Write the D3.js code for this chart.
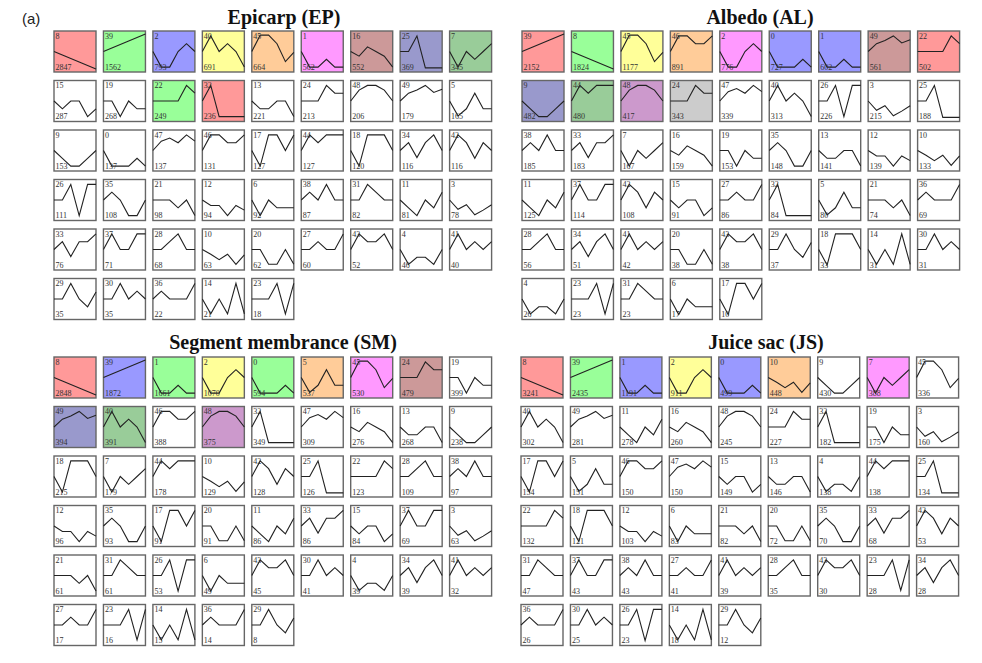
<!DOCTYPE html>
<html>
<head>
<meta charset="utf-8">
<script src="https://cdn.jsdelivr.net/npm/d3@7"></script>
<style>
  body { margin: 0; background: #fff; }
</style>
</head>
<body>
<div id="chart"></div>
<script>
// Model profiles (STEM), index = profile id, 6 time points, expression units
const profiles = [
  [0, -2, -2, -2, -1, -2],        // 0
  [0, -2, -2, -1, -2, -2],        // 1
  [0, -2, -2, 0, 1, 0],           // 2
  [0, -1.2, -0.6, -1.9, -1.3, -0.6], // 3
  [0, -1.9, -1, -1, -1.9, 0],     // 4
  [0, -1.9, -1, 1, -1, -1],       // 5
  [0, -2, 0, -1, -1, -1],         // 6
  [0, -2, 0, -1, 0, 1],           // 7
  [0, -0.45, -0.9, -1.35, -1.8, -2.25], // 8
  [0, -1, -2, -2, -1, 0],         // 9
  [0, -0.6, -1.3, -0.6, -1.9, -0.7], // 10
  [0, -1, -2, 0, -1, 1],          // 11
  [0, -0.7, -0.7, -2, -0.7, -1.3], // 12
  [0, -1, -1, 0, 0, -2],          // 13
  [0, -1.9, 0, -1.9, 2, -1.9],    // 14
  [0, -1, 0, 0, -2, -1],          // 15
  [0, -0.6, 0.6, 0, -0.6, -2],    // 16
  [0, -2, 2, 2, 0, 2],            // 17
  [0, -2, 2, 2, 2, 0],            // 18
  [0, 0, -2, 0, -1, -1],          // 19
  [0, 0, -1.9, -1.9, 0, -1.9],    // 20
  [0, 0, 0, -1, 0, -2],           // 21
  [0, 0, 0, 0, 2, 1],             // 22
  [0, 0, 0, 2, -1.9, 2],          // 23
  [0, 0, 0, 2, 1, 1],             // 24
  [0, 0, 2, -2.1, -2.1, -2.1],    // 25
  [0, 0, 2, -2, 2, 2],            // 26
  [0, 0, 1, 0, 0, 2],             // 27
  [0, 0, 1, 2, 0, 0],             // 28
  [0, 0, 2, 0, -1, 0.9],          // 29
  [0, 0, 2, 0, 1, 0],             // 30
  [0, 0, 2, 1, 0, 0],             // 31
  [0, 2, -2, -2, -2, -2],         // 32
  [0, 1, -0.9, 1, 1, 2],          // 33
  [0, 1, -0.9, 1, 2, 0],          // 34
  [0, 1, 0, -2, -2, 0],           // 35
  [0, 1, 0, 0, 0, 2],             // 36
  [0, 2, 0, 0, 2, 2],             // 37
  [0, 1, 0, 2, 0, 0],             // 38
  [0, 0.45, 0.9, 1.35, 1.8, 2.25], // 39
  [0, 2, 0, 1, 0, -2],            // 40
  [0, 2, 0, 1, 0, 1],             // 41
  [0, 2, 1, -1, 1, 0],            // 42
  [0, 2, 1, 1, 2, 0],             // 43
  [0, 2, 1, 2, 2, 2],             // 44
  [0, 2.1, 2.1, 1, -1.3, -0.1],   // 45
  [0, 2, 2, 1, 1, 2],             // 46
  [0, 1.2, 1.6, 1, 2, 1.2],       // 47
  [0, 1.4, 2, 2, 1.4, 0],         // 48
  [0, 1, 1.4, 2, 1.1, 1.5]        // 49
];

// Epicarp
const epIds = [8, 39, 2, 40, 45, 1, 16, 25, 7, 15, 19, 22, 32, 13, 24, 48, 49, 5,
  9, 0, 47, 46, 17, 44, 18, 34, 42, 26, 35, 21, 12, 6, 38, 31, 11, 3,
  33, 37, 28, 10, 20, 27, 43, 4, 41, 29, 30, 36, 14, 23];
const epCounts = [2847, 1562, 793, 691, 664, 562, 552, 369, 345, 287, 268, 249, 236, 221, 213, 206, 179, 165,
  153, 137, 137, 131, 127, 127, 120, 116, 116, 111, 108, 98, 94, 92, 87, 82, 81, 78,
  76, 71, 68, 63, 62, 60, 52, 46, 40, 35, 35, 22, 21, 18];
const epClusters = { 8: "red", 39: "green", 2: "blue", 40: "yellow", 45: "orange", 1: "magenta",
  16: "brown", 25: "slate", 7: "dkgreen", 22: "green", 32: "red" };

// Albedo
const alIds = [39, 8, 45, 46, 2, 0, 1, 49, 22, 9, 44, 48, 24, 47, 40, 26, 3, 25,
  38, 33, 7, 16, 19, 35, 13, 12, 10, 11, 37, 42, 15, 27, 32, 5, 21, 36,
  28, 34, 41, 20, 43, 29, 18, 14, 30, 4, 23, 31, 6, 17];
const alCounts = [2152, 1824, 1177, 891, 776, 727, 602, 561, 502, 482, 480, 417, 343, 339, 313, 226, 215, 188,
  185, 183, 167, 159, 153, 148, 141, 139, 133, 125, 114, 108, 91, 86, 84, 80, 74, 69,
  56, 51, 42, 38, 38, 37, 33, 31, 31, 26, 23, 23, 17, 10];
const alClusters = { 39: "red", 8: "green", 45: "yellow", 46: "orange", 2: "magenta", 0: "blue",
  1: "blue", 49: "brown", 22: "red", 9: "slate", 44: "dkgreen", 48: "orchid", 24: "gray" };

// Segment membrance
const smIds = [8, 39, 1, 2, 0, 5, 45, 24, 19, 49, 40, 46, 48, 32, 47, 16, 13, 9,
  18, 7, 44, 10, 42, 25, 22, 28, 38, 12, 35, 17, 20, 11, 33, 15, 37, 3,
  21, 31, 26, 6, 43, 30, 4, 34, 41, 27, 23, 14, 36, 29];
const smCounts = [2848, 1872, 1661, 1070, 594, 537, 530, 479, 399, 394, 391, 388, 375, 349, 309, 276, 268, 238,
  215, 179, 178, 129, 128, 126, 123, 109, 97, 96, 93, 91, 91, 86, 86, 84, 69, 63,
  61, 61, 53, 49, 45, 41, 39, 39, 32, 17, 16, 15, 14, 8];
const smClusters = { 8: "red", 39: "blue", 1: "green", 2: "yellow", 0: "green", 5: "orange",
  45: "magenta", 24: "brown", 49: "slate", 40: "dkgreen", 48: "orchid" };

// Juice sac
const jsIds = [8, 39, 1, 2, 0, 10, 9, 7, 45, 40, 49, 11, 16, 48, 24, 32, 19, 3,
  17, 5, 46, 47, 15, 13, 4, 44, 25, 22, 18, 12, 6, 21, 20, 35, 33, 42,
  31, 37, 38, 27, 41, 28, 43, 23, 34, 36, 30, 26, 14, 29];
const jsCounts = [3241, 2435, 1191, 911, 499, 448, 430, 388, 336, 302, 281, 278, 260, 245, 227, 182, 175, 160,
  154, 151, 150, 150, 149, 146, 138, 138, 134, 132, 121, 103, 83, 82, 72, 70, 68, 53,
  47, 43, 43, 41, 39, 35, 30, 28, 28, 26, 25, 23, 18, 12];
const jsClusters = { 8: "red", 39: "green", 1: "blue", 2: "yellow", 0: "blue", 10: "orange", 7: "magenta" };

const palette = {
  red: "#ff9999", green: "#99ff99", blue: "#9999ff", yellow: "#ffff99",
  orange: "#ffcc99", magenta: "#ff99ff", brown: "#cc9999", slate: "#9999cc",
  dkgreen: "#99cc99", orchid: "#cc99cc", gray: "#cccccc"
};

const panels = [
  { title: "Epicarp (EP)", tx: 284, ty: 23.5, x0: 54, y0: 31, ids: epIds, counts: epCounts, clusters: epClusters },
  { title: "Albedo (AL)", tx: 760, ty: 23.5, x0: 522, y0: 31, ids: alIds, counts: alCounts, clusters: alClusters },
  { title: "Segment membrance (SM)", tx: 283, ty: 349, x0: 54, y0: 357, ids: smIds, counts: smCounts, clusters: smClusters },
  { title: "Juice sac (JS)", tx: 766, ty: 349, x0: 521, y0: 357, ids: jsIds, counts: jsCounts, clusters: jsClusters }
];

const W = 982, H = 663;
const boxW = 42, boxH = 41, pitchX = 49.45, pitchY = 49.5, nCols = 9;
const serif = "'Liberation Serif', 'Times New Roman', serif";

const svg = d3.select("#chart").append("svg")
  .attr("width", W)
  .attr("height", H);

svg.append("text")
  .attr("x", 22)
  .attr("y", 24)
  .attr("font-family", "'Liberation Sans', Arial, sans-serif")
  .attr("font-size", 15)
  .attr("fill", "#222")
  .text("(a)");

// scales shared by every small box
const x = d3.scaleLinear().domain([0, 5]).range([0, boxW]);
const y = d3.scaleLinear().domain([-2.63, 2.63]).range([boxH, 0]);
const line = d3.line()
  .x((d, i) => x(i))
  .y(d => y(d));

panels.forEach(p => {
  svg.append("text")
    .attr("x", p.tx)
    .attr("y", p.ty)
    .attr("text-anchor", "middle")
    .attr("font-family", serif)
    .attr("font-weight", "bold")
    .attr("font-size", 20)
    .attr("fill", "#111")
    .text(p.title);

  const cells = svg.append("g")
    .selectAll("g")
    .data(p.ids.map((id, i) => ({ id: id, count: p.counts[i], i: i })))
    .enter()
    .append("g")
    .attr("transform", d => {
      const col = d.i % nCols, row = Math.floor(d.i / nCols);
      return `translate(${p.x0 + col * pitchX},${p.y0 + row * pitchY})`;
    });

  cells.append("rect")
    .attr("width", boxW)
    .attr("height", boxH)
    .attr("fill", d => p.clusters[d.id] ? palette[p.clusters[d.id]] : "#fff")
    .attr("stroke", "#666")
    .attr("stroke-width", 1.4);

  cells.append("path")
    .attr("d", d => line(profiles[d.id]))
    .attr("fill", "none")
    .attr("stroke", "#222")
    .attr("stroke-width", 1.1);

  cells.append("text")
    .attr("x", 1.5)
    .attr("y", 7.5)
    .attr("font-family", serif)
    .attr("font-size", 8)
    .attr("fill", "#333")
    .text(d => d.id);

  cells.append("text")
    .attr("x", 1.5)
    .attr("y", boxH - 2.5)
    .attr("font-family", serif)
    .attr("font-size", 8)
    .attr("fill", "#333")
    .text(d => d.count);
});
</script>
</body>
</html>
